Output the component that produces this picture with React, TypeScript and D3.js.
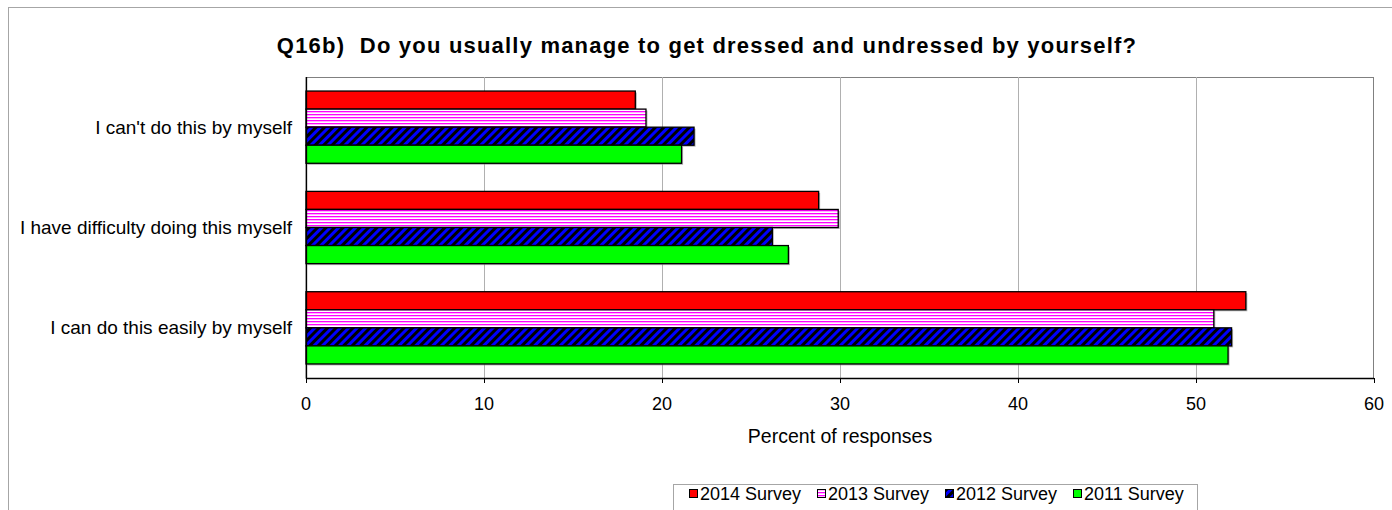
import React from "react";
import * as d3 from "d3";

const categories = [
  "I can't do this by myself",
  "I have difficulty doing this myself",
  "I can do this easily by myself",
];
const seriesNames = ["2014 Survey", "2013 Survey", "2012 Survey", "2011 Survey"];
const values2014 = [18.5, 28.8, 52.8];
const values2013 = [19.1, 29.9, 51.0];
const values2012 = [21.8, 26.2, 52.0];
const values2011 = [21.1, 27.1, 51.8];
const xTicks = [0, 10, 20, 30, 40, 50, 60];

const seriesValues = [values2014, values2013, values2012, values2011];
const fills = ["#FF0000", "url(#pinkStripe)", "url(#blueHatch)", "#00FF00"];

export default function App() {
  const W = 1392, H = 510;
  const left = 306, right = 1374, top = 77, bottom = 378;
  const x = d3.scaleLinear().domain([0, 60]).range([left, right]);
  const y = d3.scaleBand<string>().domain(categories).range([top, bottom]).paddingInner(0.28).paddingOuter(0.14);
  const inner = d3.scaleBand<string>().domain(seriesNames).range([0, y.bandwidth()]);
  const font = "'Liberation Sans', Arial, sans-serif";
  const fs = 18;

  const legendItems = [
    { x: 689, name: seriesNames[0], fill: fills[0] },
    { x: 817, name: seriesNames[1], fill: fills[1] },
    { x: 945, name: seriesNames[2], fill: fills[2] },
    { x: 1073, name: seriesNames[3], fill: fills[3] },
  ];

  return (
    <svg width={W} height={H} style={{ position: "absolute", left: 0, top: 0, display: "block" }} fontFamily={font}>
      <defs>
        <pattern id="pinkStripe" width="4" height="3" patternUnits="userSpaceOnUse">
          <rect width="4" height="3" fill="#FFFFFF" />
          <rect y="0" width="4" height="1" fill="#FF00FF" />
          <rect y="1" width="4" height="1" fill="#FFB0FF" />
        </pattern>
        <pattern id="blueHatch" width="6" height="6" patternUnits="userSpaceOnUse" patternTransform="rotate(45)">
          <rect width="6" height="6" fill="#0000FF" />
          <rect x="0" width="3" height="6" fill="#000000" />
        </pattern>
      </defs>
      <rect x={0} y={0} width={W} height={H} fill="#fff" />
      <rect x={8.5} y={7.5} width={W + 10} height={H + 10} fill="none" stroke="#A6A6A6" strokeWidth={1} />

      <text x={707} y={53} textAnchor="middle" fontSize={22} fontWeight="bold" letterSpacing={1.2} fill="#000" style={{ whiteSpace: "pre" }}>
        Q16b)  Do you usually manage to get dressed and undressed by yourself?
      </text>

      {/* plot area */}
      <rect x={left} y={top + 0.5} width={right - left - 0.5} height={bottom - top} fill="#fff" stroke="#808080" strokeWidth={1} />
      {xTicks.slice(1, -1).map((t) => (
        <line key={t} x1={Math.round(x(t)) + 0.5} x2={Math.round(x(t)) + 0.5} y1={top} y2={bottom} stroke="#B0B0B0" strokeWidth={1} />
      ))}

      {/* bars */}
      {categories.map((c, ci) =>
        seriesNames.map((s, si) => {
          const by = (y(c) ?? 0) + (inner(s) ?? 0);
          const bw = x(seriesValues[si][ci]) - x(0);
          const bh = inner.bandwidth();
          return (
            <g key={c + s}>
              <rect x={x(0) + 1.5} y={by + 1.5} width={bw} height={bh} fill="#808080" opacity={0.6} />
              <rect x={x(0)} y={by} width={bw} height={bh} fill={fills[si]} stroke="#000" strokeWidth={1.3} />
            </g>
          );
        })
      )}

      {/* axes */}
      <line x1={left + 0.5} x2={left + 0.5} y1={top} y2={bottom} stroke="#000" strokeWidth={1.3} />
      <line x1={left} x2={right} y1={bottom + 0.5} y2={bottom + 0.5} stroke="#000" strokeWidth={1.3} />
      {xTicks.map((t) => (
        <g key={t}>
          <line x1={Math.round(x(t)) + 0.5} x2={Math.round(x(t)) + 0.5} y1={bottom} y2={bottom + 5} stroke="#000" />
          <text x={x(t)} y={410} textAnchor="middle" fontSize={fs} fill="#000">{t}</text>
        </g>
      ))}
      <text x={(left + right) / 2} y={443} textAnchor="middle" fontSize={19.5} fill="#000">Percent of responses</text>

      {categories.map((c) => (
        <text key={c} x={292} y={(y(c) ?? 0) + y.bandwidth() / 2 + 6.5} textAnchor="end" fontSize={19} fill="#000">{c}</text>
      ))}

      {/* legend */}
      <rect x={673.5} y={484.5} width={524} height={40} fill="#fff" stroke="#A6A6A6" strokeWidth={1} />
      {legendItems.map((it) => (
        <g key={it.name}>
          <rect x={it.x + 0.5} y={489.5} width={8} height={8} fill={it.fill} stroke="#000" strokeWidth={1} />
          <text x={it.x + 11} y={500} fontSize={fs} fill="#000">{it.name}</text>
        </g>
      ))}
    </svg>
  );
}
